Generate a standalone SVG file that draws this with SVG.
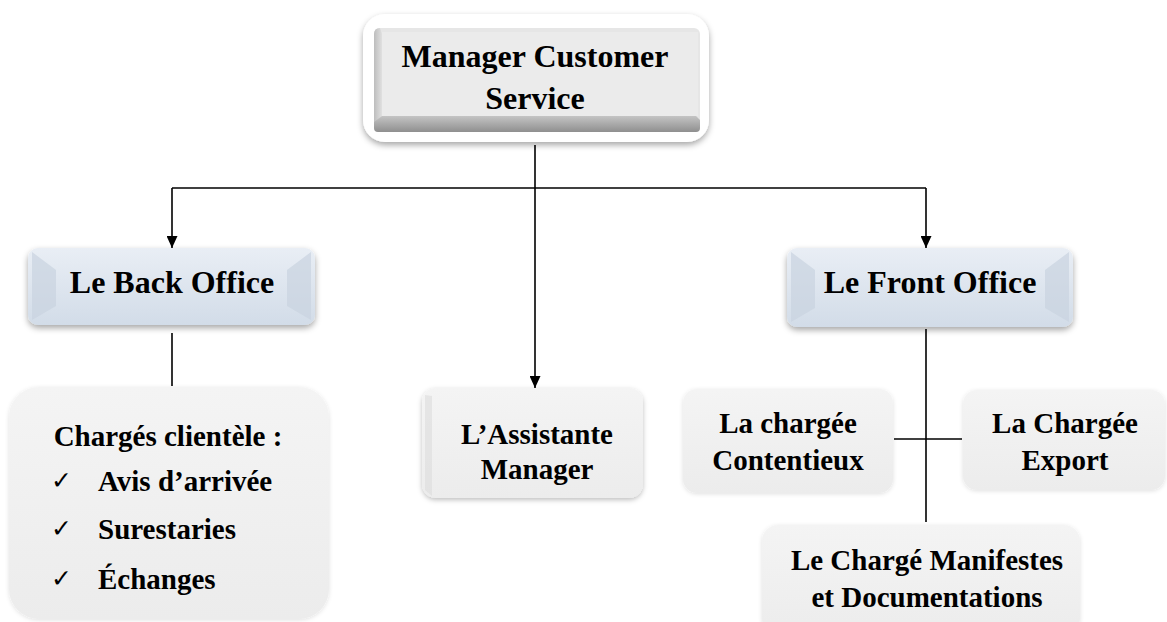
<svg xmlns="http://www.w3.org/2000/svg" width="1167" height="622" viewBox="0 0 1167 622">
<style>
.t{font-family:"Liberation Serif","Times New Roman",serif;font-weight:bold;fill:#000;text-anchor:middle}
.t32{font-size:32px}
.t30{font-size:29px}
.ln{stroke:#000;stroke-width:1.6;fill:none}
.chk{font-family:"DejaVu Sans",sans-serif;font-size:25px;fill:#000}
</style>
<defs>
<marker id="ah" viewBox="0 0 12 11" refX="12" refY="5.5" markerWidth="12" markerHeight="11" markerUnits="userSpaceOnUse" orient="auto">
<path d="M0,0 L12,5.5 L0,11 Z" fill="#000"/>
</marker>
<filter id="sh" x="-10%" y="-10%" width="120%" height="130%">
<feDropShadow dx="0" dy="3" stdDeviation="3" flood-color="#000" flood-opacity="0.35"/>
</filter>
<filter id="sh2" x="-10%" y="-10%" width="120%" height="130%">
<feDropShadow dx="0" dy="2" stdDeviation="2.5" flood-color="#000" flood-opacity="0.25"/>
</filter>
<filter id="glow" x="-10%" y="-10%" width="120%" height="130%">
<feDropShadow dx="0" dy="1" stdDeviation="2" flood-color="#000" flood-opacity="0.12"/>
</filter>
<linearGradient id="blue" x1="0" y1="0" x2="0" y2="1">
<stop offset="0" stop-color="#e9eef5"/>
<stop offset="1" stop-color="#d2dce8"/>
</linearGradient>
<linearGradient id="gray" x1="0" y1="0" x2="0" y2="1">
<stop offset="0" stop-color="#f4f4f4"/>
<stop offset="1" stop-color="#ececec"/>
</linearGradient>
<linearGradient id="bot" x1="0" y1="0" x2="0" y2="1">
<stop offset="0" stop-color="#c4c4c4"/>
<stop offset="1" stop-color="#8f8f8f"/>
</linearGradient>
<linearGradient id="lft" x1="0" y1="0" x2="1" y2="0">
<stop offset="0" stop-color="#bdbdbd"/>
<stop offset="1" stop-color="#e0e0e0"/>
</linearGradient>
</defs>

<g id="connectors">
<path class="ln" d="M535,145 V188"/>
<path class="ln" d="M172,188 H926"/>
<path class="ln" d="M172,188 V248" marker-end="url(#ah)"/>
<path class="ln" d="M535,188 V388" marker-end="url(#ah)"/>
<path class="ln" d="M926,188 V248" marker-end="url(#ah)"/>
<path class="ln" d="M172,333 V386"/>
<path class="ln" d="M926,329 V522"/>
<path class="ln" d="M894,439 H962"/>
</g>

<g id="manager-customer-service">
<rect x="363" y="14" width="346" height="128" rx="22" fill="#fff" filter="url(#sh)"/>
<rect x="374" y="28" width="326" height="104" rx="6" fill="#e6e6e6"/>
<path d="M374,34 Q374,28 380,28 L382,34 V118 L374,124 Z" fill="url(#lft)"/>
<path d="M374,122 L382,116 H696 L700,120 V128 Q700,132 696,132 H378 Q374,132 374,128 Z" fill="url(#bot)"/>
<rect x="382" y="32" width="316" height="84" fill="#ebebeb"/>
<text class="t t32" x="535" y="67">Manager Customer</text>
<text class="t t32" x="535" y="109">Service</text>
</g>

<g id="back-office">
<rect x="28" y="248" width="287" height="77" rx="10" fill="url(#blue)" filter="url(#sh)"/>
<path d="M32,252 L56,270 V306 L32,320 Z" fill="#c9d3df" opacity="0.7"/>
<path d="M311,252 L287,270 V306 L311,320 Z" fill="#c9d3df" opacity="0.7"/>
<text class="t t32" x="172" y="293">Le Back Office</text>
</g>

<g id="front-office">
<rect x="787" y="248" width="286" height="79" rx="10" fill="url(#blue)" filter="url(#sh)"/>
<path d="M791,252 L815,270 V308 L791,322 Z" fill="#c9d3df" opacity="0.7"/>
<path d="M1069,252 L1045,270 V308 L1069,322 Z" fill="#c9d3df" opacity="0.7"/>
<text class="t t32" x="930" y="293">Le Front Office</text>
</g>

<g id="charges-clientele">
<rect x="9" y="387" width="320" height="232" rx="30" fill="url(#gray)" filter="url(#glow)"/>
<text class="t t30" x="168" y="446">Chargés clientèle :</text>
<text class="chk" x="51" y="489">✓</text>
<text class="t t30" x="98" y="491" style="text-anchor:start">Avis d’arrivée</text>
<text class="chk" x="51" y="537">✓</text>
<text class="t t30" x="98" y="539" style="text-anchor:start">Surestaries</text>
<text class="chk" x="51" y="587">✓</text>
<text class="t t30" x="98" y="589" style="text-anchor:start">Échanges</text>
</g>

<g id="assistante-manager">
<rect x="422" y="388" width="221" height="110" rx="14" fill="url(#gray)" filter="url(#sh2)"/>
<path d="M425,395 V490 L432,496 V396 Z" fill="#dcdcdc" opacity="0.6"/>
<text class="t t30" x="537" y="444">L’Assistante</text>
<text class="t t30" x="537" y="479">Manager</text>
</g>

<g id="chargee-contentieux">
<rect x="683" y="389" width="210" height="104" rx="14" fill="url(#gray)" filter="url(#glow)"/>
<text class="t t30" x="788" y="433">La chargée</text>
<text class="t t30" x="788" y="470">Contentieux</text>
</g>

<g id="chargee-export">
<rect x="963" y="390" width="202" height="100" rx="14" fill="url(#gray)" filter="url(#glow)"/>
<text class="t t30" x="1065" y="433">La Chargée</text>
<text class="t t30" x="1065" y="470">Export</text>
</g>

<g id="charge-manifestes">
<rect x="762" y="525" width="318" height="110" rx="16" fill="url(#gray)" filter="url(#glow)"/>
<text class="t t30" x="927" y="570">Le Chargé Manifestes</text>
<text class="t t30" x="927" y="607">et Documentations</text>
</g>
</svg>
